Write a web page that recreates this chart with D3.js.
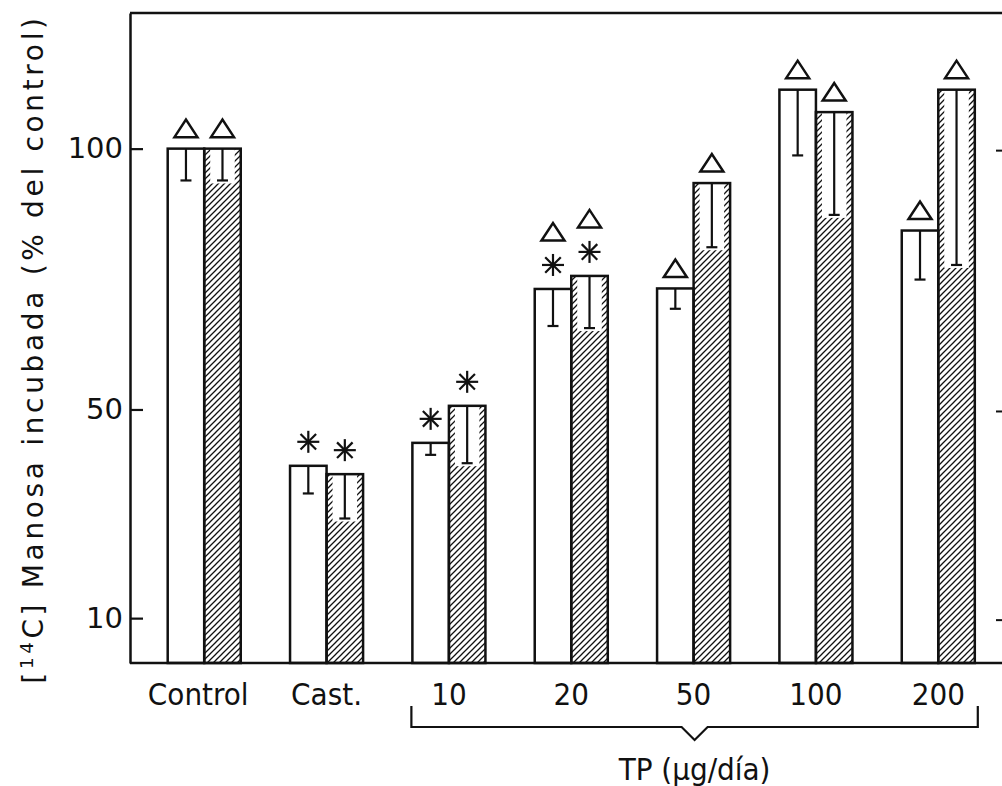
<!DOCTYPE html>
<html><head><meta charset="utf-8">
<script src="https://cdn.jsdelivr.net/npm/d3@7"></script>
<style>body{margin:0;background:#fff}</style>
</head><body>
<svg id="c" width="1002" height="786"></svg>
<script>
// ---- data ----
const categories = ["Control", "Cast.", "10", "20", "50", "100", "200"];
const seriesKeys = ["blanco", "rayado"];
const whiteValues = [100, 39.2, 43.6, 73.1, 73.2, 111.3, 84.3];
const hatchValues = [100, 37.6, 50.7, 75.6, 93.4, 107.0, 111.3];
const whiteErr = [6.1, 5.3, 2.3, 7.1, 3.9, 12.6, 9.4];
const hatchErr = [6.1, 8.5, 11.0, 10.0, 12.3, 19.7, 33.6];
// markers stacked upward from bar top: "a" = asterisk, "t" = triangle
const whiteMarks = [["t"], ["a"], ["a"], ["a", "t"], ["t"], ["t"], ["t"]];
const hatchMarks = [["t"], ["a"], ["a"], ["a", "t"], ["t"], ["t"], ["t"]];
const yTicks = [10, 50, 100];
const yLabelMain = "C] Manosa incubada (% del  control)";
const xTitle = "TP (\u03bcg/d\u00eda)";
const bracedCats = ["10", "200"];

const svg = d3.select("#c");
const INK = "#111";

const x = d3.scaleBand().domain(categories).range([131, 1011.5]).paddingInner(0.403).paddingOuter(0.3);
const x1 = d3.scaleBand().domain(seriesKeys).range([0, x.bandwidth()]);
const y = d3.scaleLinear().domain([1.4, 126]).range([663, 13]);

const defs = svg.append("defs");
const pat = defs.append("pattern").attr("id", "hatch").attr("patternUnits", "userSpaceOnUse")
  .attr("width", 6).attr("height", 6);
pat.append("path").attr("d", "M-1,1 l2,-2 M0,6 l6,-6 M5,7 l2,-2")
  .attr("stroke", INK).attr("stroke-width", 1.3);

const rows = categories.map((c, i) => [
  {cat: c, key: "blanco", v: whiteValues[i], e: whiteErr[i], m: whiteMarks[i]},
  {cat: c, key: "rayado", v: hatchValues[i], e: hatchErr[i], m: hatchMarks[i]}
]).flat();

const g = svg.append("g");
rows.forEach(d => {
  const bx = x(d.cat) + x1(d.key), bw = x1.bandwidth();
  const top = y(d.v), base = y.range()[0];
  const cx = bx + bw / 2;
  g.append("rect").attr("x", bx).attr("y", top).attr("width", bw).attr("height", base - top)
    .attr("fill", d.key === "rayado" ? "url(#hatch)" : "#fff");
  if (d.key === "rayado") {
    g.append("rect").attr("x", bx + 6).attr("y", top).attr("width", bw - 12)
      .attr("height", y(d.v - d.e) - top + 3).attr("fill", "#fff");
  }
  // error bar (lower)
  g.append("line").attr("x1", cx).attr("x2", cx).attr("y1", top).attr("y2", y(d.v - d.e))
    .attr("stroke", INK).attr("stroke-width", 2.2);
  g.append("line").attr("x1", cx - 5.5).attr("x2", cx + 5.5).attr("y1", y(d.v - d.e)).attr("y2", y(d.v - d.e))
    .attr("stroke", INK).attr("stroke-width", 2.2);
  g.append("rect").attr("x", bx).attr("y", top).attr("width", bw).attr("height", base - top)
    .attr("fill", "none").attr("stroke", INK).attr("stroke-width", 2.5);
  // markers
  let off = 0;
  d.m.forEach((mk, k) => {
    if (mk === "a") {
      const cy = top - (k === 0 ? 24 : off + 33);
      off = top - cy;
      [0, 45, 90, 135].forEach(a => {
        const r = 11, rad = a * Math.PI / 180;
        g.append("line").attr("x1", cx - r * Math.cos(rad)).attr("y1", cy - r * Math.sin(rad))
          .attr("x2", cx + r * Math.cos(rad)).attr("y2", cy + r * Math.sin(rad))
          .attr("stroke", INK).attr("stroke-width", 2.2);
      });
    } else {
      const cy = top - (k === 0 ? 20 : off + 33);
      off = top - cy;
      g.append("path").attr("d", `M${cx - 11.5},${cy + 8.5} L${cx + 11.5},${cy + 8.5} L${cx},${cy - 9} Z`)
        .attr("fill", "#fff").attr("stroke", INK).attr("stroke-width", 2.5).attr("stroke-linejoin", "miter");
    }
  });
});

// frame lines
svg.append("line").attr("x1", 130).attr("x2", 1002).attr("y1", y.range()[1]).attr("y2", y.range()[1])
  .attr("stroke", INK).attr("stroke-width", 2.5);
svg.append("line").attr("x1", 130).attr("x2", 1002).attr("y1", y.range()[0]).attr("y2", y.range()[0])
  .attr("stroke", INK).attr("stroke-width", 2.5);

// y axis
const ya = svg.append("g").attr("transform", "translate(130,0)")
  .call(d3.axisLeft(y).tickValues(yTicks).tickSizeInner(-13).tickSizeOuter(0).tickPadding(7).tickFormat(d3.format("d")));
ya.select(".domain").attr("stroke", INK).attr("stroke-width", 2.5);
ya.selectAll(".tick line").attr("stroke", INK).attr("stroke-width", 2.2);
ya.selectAll(".tick text").attr("font-family", "DejaVu Sans").attr("font-size", 29).attr("fill", INK);

// right side ticks
svg.append("g").selectAll("line").data(yTicks).join("line")
  .attr("x1", 996).attr("x2", 1002).attr("y1", d => y(d) + 2).attr("y2", d => y(d) + 2)
  .attr("stroke", INK).attr("stroke-width", 2);

// x labels
const condensed = "'DejaVu Sans Condensed', 'Liberation Sans Narrow', 'DejaVu Sans'";
svg.append("g").selectAll("text").data(categories).join("text")
  .attr("x", d => x(d) + x.bandwidth() / 2 - (d === "Control" ? 6 : 0)).attr("y", 705)
  .attr("text-anchor", "middle").attr("font-family", condensed).attr("font-stretch", "condensed")
  .attr("font-size", 31).attr("fill", INK).text(d => d);

// brace
const bx0 = x(bracedCats[0]) - 1, bx1 = x(bracedCats[1]) + x.bandwidth() + 3;
const bmid = (bx0 + bx1) / 2;
svg.append("path").attr("d", `M${bx0},706 L${bx0},727 L${bmid - 13},727 L${bmid},740 L${bmid + 13},727 L${bx1},727 L${bx1},706`)
  .attr("fill", "none").attr("stroke", INK).attr("stroke-width", 2.2);
svg.append("text").attr("x", bmid).attr("y", 780).attr("text-anchor", "middle")
  .attr("font-family", condensed).attr("font-stretch", "condensed").attr("font-size", 31).attr("fill", INK).text(xTitle);

// y label (font size chosen, then letter spacing fitted to the span of the reference)
const yfs = 28;
const yl = svg.append("text").attr("transform", "translate(43,349) rotate(-90)").attr("text-anchor", "middle")
  .attr("font-family", "DejaVu Sans").attr("font-size", yfs).attr("fill", INK);
yl.append("tspan").text("[");
yl.append("tspan").attr("font-size", yfs * 0.65).attr("dy", -yfs * 0.35).text("14");
yl.append("tspan").attr("dy", yfs * 0.35).text(yLabelMain);
const L = yl.node().getComputedTextLength();
const nChars = 1 + 2 + yLabelMain.length;
yl.attr("letter-spacing", Math.max(0, (673 - L) / nChars));
</script>
</body></html>
